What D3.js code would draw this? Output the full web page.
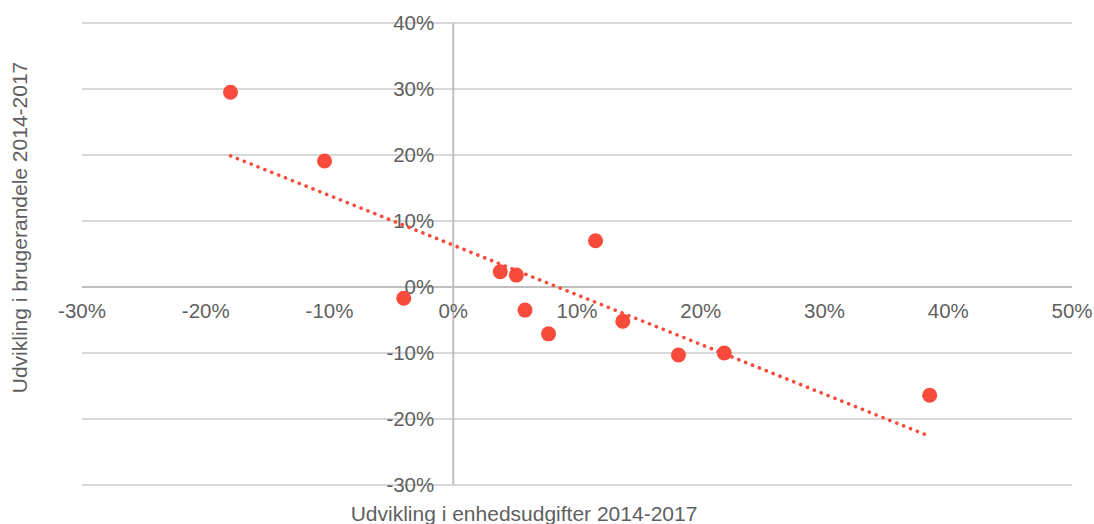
<!DOCTYPE html>
<html>
<head>
<meta charset="utf-8">
<script src="https://cdn.jsdelivr.net/npm/d3@7"></script>
<style>
  html, body { margin: 0; padding: 0; background: #fff; }
  svg { display: block; }
  text { font-family: "Liberation Sans", Arial, sans-serif; fill: #5f5f5f; }
</style>
</head>
<body>
<svg id="chart" width="1094" height="524"></svg>
<script>
// Data (percent values)
const unitCostChange = [-18.0, -10.4, -4.0, 3.8, 5.1, 5.8, 7.7, 11.5, 13.7, 18.2, 21.9, 38.5];
const userShareChange = [29.5, 19.1, -1.7, 2.3, 1.8, -3.5, -7.1, 7.0, -5.2, -10.3, -10.0, -16.4];
const xTicks = [-30, -20, -10, 0, 10, 20, 30, 40, 50];
const yTicks = [-30, -20, -10, 0, 10, 20, 30, 40];
const xTitle = "Udvikling i enhedsudgifter 2014-2017";
const yTitle = "Udvikling i brugerandele 2014-2017";

const svg = d3.select("#chart");
const x = d3.scaleLinear().domain([-30, 50]).range([82, 1072]);
const y = d3.scaleLinear().domain([-30, 40]).range([485, 23]);
const fmt = d => d + "%";
const red = "#f84b3b";

// horizontal gridlines
svg.append("g").selectAll("line").data(yTicks).join("line")
  .attr("x1", x(-30)).attr("x2", x(50))
  .attr("y1", d => y(d)).attr("y2", d => y(d))
  .attr("stroke", d => d === 0 ? "#bfbfbf" : "#d9d9d9")
  .attr("stroke-width", 2);

// vertical axis line at x=0
svg.append("line")
  .attr("x1", x(0)).attr("x2", x(0))
  .attr("y1", y(40)).attr("y2", y(-30))
  .attr("stroke", "#bfbfbf").attr("stroke-width", 2);

// y tick labels
svg.append("g").selectAll("text").data(yTicks).join("text")
  .attr("x", x(0) - 19).attr("y", d => y(d) + 7)
  .attr("text-anchor", "end")
  .style("font-size", "20.5px")
  .text(fmt);

// x tick labels
svg.append("g").selectAll("text").data(xTicks).join("text")
  .attr("x", d => x(d)).attr("y", y(0) + 31)
  .attr("text-anchor", "middle")
  .style("font-size", "20.5px")
  .text(fmt);

// trendline (least squares)
const n = unitCostChange.length;
const mx = d3.mean(unitCostChange), my = d3.mean(userShareChange);
let sxy = 0, sxx = 0;
for (let i = 0; i < n; i++) {
  sxy += (unitCostChange[i] - mx) * (userShareChange[i] - my);
  sxx += (unitCostChange[i] - mx) ** 2;
}
const slope = sxy / sxx, intercept = my - slope * mx;
const [x0, x1] = d3.extent(unitCostChange);
svg.append("line")
  .attr("x1", x(x0)).attr("y1", y(intercept + slope * x0))
  .attr("x2", x(x1)).attr("y2", y(intercept + slope * x1))
  .attr("stroke", red).attr("stroke-width", 3.6)
  .attr("stroke-linecap", "round")
  .attr("stroke-dasharray", "0.1 7.3");

// points
svg.append("g").selectAll("circle").data(unitCostChange.map((v, i) => [v, userShareChange[i]])).join("circle")
  .attr("cx", d => x(d[0])).attr("cy", d => y(d[1]))
  .attr("r", 7.5).attr("fill", red);

// axis titles
svg.append("text")
  .attr("x", 524).attr("y", 521)
  .attr("text-anchor", "middle")
  .style("font-size", "21px")
  .text(xTitle);

svg.append("text")
  .attr("transform", "translate(27,227.5) rotate(-90)")
  .attr("text-anchor", "middle")
  .style("font-size", "21px")
  .text(yTitle);
</script>
</body>
</html>
